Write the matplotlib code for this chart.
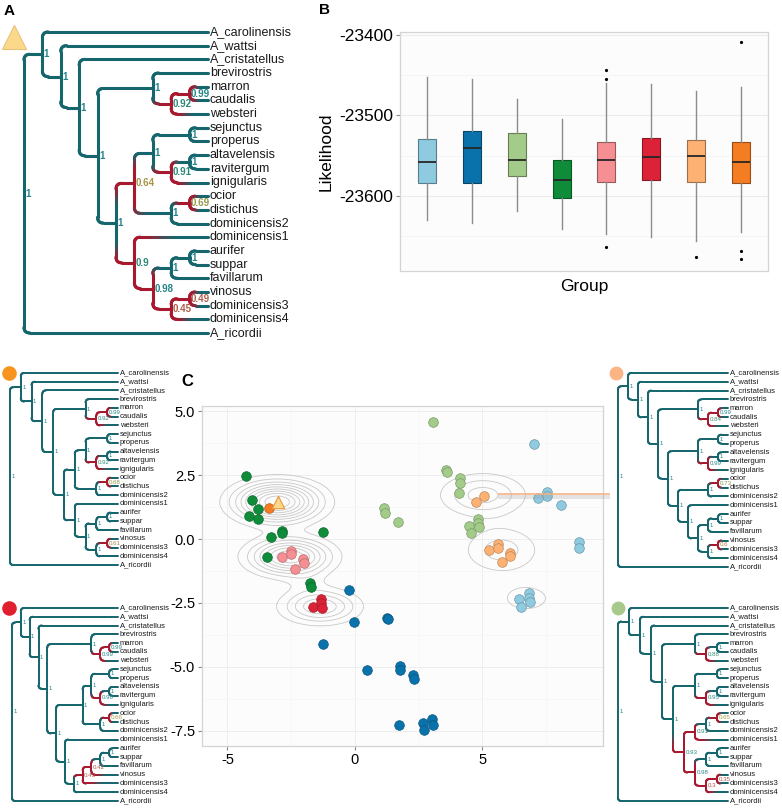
import numpy as np
import matplotlib
matplotlib.use("Agg")
import matplotlib.pyplot as plt
from matplotlib.collections import LineCollection
from matplotlib.colors import to_rgb, LinearSegmentedColormap

plt.rcParams["font.family"] = ["Liberation Sans", "DejaVu Sans"]
plt.rcParams["axes.unicode_minus"] = False

W, H = 782, 809

# ---------------- data ----------------
# trees as newick, "*" marks clades drawn in red
TREE_A = "((A_carolinensis,(A_wattsi,(A_cristatellus,((brevirostris,((marron,caudalis)0.99*,websteri)0.92*)1,((((sejunctus,properus)1,((altavelensis,ravitergum)1,ignigularis)0.91*)1,((ocior,distichus)0.69*,dominicensis2)1)0.64*,(dominicensis1,(((aurifer,suppar)1,favillarum)1,((vinosus,dominicensis3)0.49*,dominicensis4)0.45*)0.98*)0.9*)1)1)1)1)1,A_ricordii)1"
TREE_ORANGE = "((A_carolinensis,(A_wattsi,(A_cristatellus,((brevirostris,((marron,caudalis)0.99*,websteri)0.92*)1,((((sejunctus,properus)1,((altavelensis,ravitergum)1,ignigularis)0.92*)1,((ocior,distichus)0.68*,dominicensis2)1)1,(dominicensis1,(((aurifer,suppar)1,favillarum)1,((vinosus,dominicensis3)0.61*,dominicensis4)1)1)1)1)1)1)1)1,A_ricordii)1"
TREE_LORANGE = "((A_carolinensis,(A_wattsi,(A_cristatellus,((brevirostris,((marron,caudalis)0.99*,websteri)0.84*)1,(((sejunctus,properus)1,((altavelensis,ravitergum)1,ignigularis)0.99*)1,(((ocior,distichus)0.73*,dominicensis2)1,(dominicensis1,(((aurifer,suppar)1,favillarum)1,((vinosus,dominicensis3)0.6*,dominicensis4)1)1)1)1)1)1)1)1)1,A_ricordii)1"
TREE_RED = "((A_carolinensis,(A_wattsi,(A_cristatellus,((brevirostris,((marron,caudalis)0.99*,websteri)0.99*)1,((((sejunctus,properus)1,((altavelensis,ravitergum)1,ignigularis)0.98*)1,((ocior,distichus)0.66*,dominicensis2)1)1,(dominicensis1,(((((aurifer,suppar)1,favillarum)1,vinosus)0.42*,dominicensis3)0.43*,dominicensis4)1)1)1)1)1)1)1,A_ricordii)1"
TREE_LGREEN = "((A_carolinensis,(A_wattsi,(A_cristatellus,((brevirostris,((marron,caudalis)1,websteri)0.88*)1,(((sejunctus,properus)1,((altavelensis,ravitergum)1,ignigularis)0.95*)1,((((ocior,distichus)0.65*,dominicensis2)1,dominicensis1)0.91*,(((aurifer,suppar)1,favillarum)1,((vinosus,dominicensis3)0.35*,dominicensis4)0.3*)0.98*)0.93*)1)1)1)1)1,A_ricordii)1"

# boxplot summary per group
groups = ["1", "2", "3", "4", "5", "6", "7", "8"]
group_colors = ["#8ECAE0", "#0A72AA", "#A3CC8A", "#0E8C3A",
                "#F58F93", "#DC2237", "#FDB274", "#F47C22"]
box_hi = [-23452, -23455, -23479, -23504, -23460, -23461, -23469, -23464]
box_q3 = [-23529, -23520, -23522, -23556, -23533, -23528, -23531, -23533]
box_med = [-23558, -23541, -23555, -23580, -23556, -23552, -23551, -23558]
box_q1 = [-23584, -23584, -23576, -23603, -23583, -23580, -23583, -23584]
box_lo = [-23630, -23634, -23619, -23642, -23648, -23652, -23656, -23645]
box_fliers = [[], [], [], [], [-23443, -23454, -23664], [], [-23676],
              [-23409, -23669, -23679]]

# scatter (panel C), one list pair per group
pts_x = [
    [7.03, 7.54, 7.54, 7.19, 8.08, 8.80, 8.80, 6.43, 6.52, 6.82, 6.82, 6.85],
    [-0.25, -0.05, -1.24, 1.27, 1.28, 0.46, 1.76, 1.78, 2.27, 2.30, 1.73, 2.68, 2.70, 3.02, 3.05],
    [3.07, 1.15, 1.17, 1.70, 3.59, 3.62, 4.12, 4.14, 4.07, 4.82, 4.84, 4.86, 4.48, 4.54],
    [-4.27, -4.03, -3.82, -4.17, -3.80, -3.31, -2.85, -2.85, -1.24, -3.44, -1.76, -1.74],
    [-2.88, -2.52, -2.50, -2.03, -2.01, -2.34],
    [-1.63, -1.35, -1.33, -1.31],
    [5.07, 4.75, 5.25, 5.60, 5.61, 6.08, 6.09, 5.75],
    [-3.37],
]
pts_y = [
    [3.71, 1.84, 1.68, 1.61, 1.34, -0.10, -0.36, -2.34, -2.67, -2.12, -2.32, -2.45],
    [-1.98, -3.24, -4.10, -3.07, -3.14, -5.12, -4.96, -5.12, -5.31, -5.48, -7.28, -7.20, -7.46, -7.04, -7.27],
    [4.58, 1.20, 1.00, 0.65, 2.70, 2.63, 2.37, 2.18, 1.79, 0.77, 0.61, 0.48, 0.51, 0.22],
    [2.47, 1.51, 1.16, 0.90, 0.78, 0.09, 0.32, 0.22, 0.27, -0.72, -1.71, -1.86],
    [-0.69, -0.46, -0.59, -0.79, -0.95, -1.17],
    [-2.67, -2.34, -2.51, -2.68],
    [1.69, 1.45, -0.43, -0.20, -0.36, -0.53, -0.66, -0.91],
    [1.20],
]
ref_point = (-3.03, 1.46)

# density peaks behind the scatter
dens_cx = [-3.05, -2.55, -1.37, 5.02, 5.75, 6.73, -1.85]
dens_cy = [1.45, -0.69, -2.64, 1.72, -0.43, -2.32, -1.65]
dens_sx = [1.05, 1.0, 0.95, 1.05, 0.96, 0.82, 0.55]
dens_sy = [0.50, 0.45, 0.42, 0.53, 0.58, 0.44, 0.40]
dens_w = [1.0, 0.8, 0.5, 0.35, 0.25, 0.15, 0.07]

TEAL = "#16666e"
RED = "#a8182e"
sup_cmap = LinearSegmentedColormap.from_list(
    "sup", [(0, "#b8403f"), (0.5, "#b0604a"), (0.66, "#a59c45"),
            (0.88, "#2f8a72"), (1, "#24848a")])


def px_rect(left, top, right, bottom):
    return [left / W, 1 - bottom / H, (right - left) / W, (bottom - top) / H]


def parse_newick(text):
    pos = 0

    def node():
        nonlocal pos
        if text[pos] == "(":
            pos += 1
            kids = [node()]
            while text[pos] == ",":
                pos += 1
                kids.append(node())
            pos += 1
            start = pos
            while pos < len(text) and text[pos] not in ",)":
                pos += 1
            tag = text[start:pos]
            return {"kids": kids, "support": tag.rstrip("*"), "red": tag.endswith("*")}
        start = pos
        while text[pos] not in ",)":
            pos += 1
        return {"name": text[start:pos], "kids": [], "red": False}

    return node()


def layout(tree):
    leaves = []

    def walk(n):
        if not n["kids"]:
            n["y"] = len(leaves)
            n["h"] = 0
            leaves.append(n)
        else:
            for k in n["kids"]:
                walk(k)
            n["y"] = np.mean([k["y"] for k in n["kids"]])
            n["h"] = 1 + max(k["h"] for k in n["kids"])

    walk(tree)
    total = tree["h"]

    def setx(n):
        n["x"] = total - n["h"]
        for k in n["kids"]:
            setx(k)

    setx(tree)
    return leaves, total


def edge_points(x0, y0, x1, y1, rx, ry):
    s = np.sign(y1 - y0)
    ry = min(ry, abs(y1 - y0))
    rx = min(rx, x1 - x0)
    v = np.column_stack([np.full(12, x0), np.linspace(y0, y1 - s * ry, 12)])
    t = np.linspace(0, 1, 10)[:, None]
    p0, p1, p2 = np.array([x0, y1 - s * ry]), np.array([x0, y1]), np.array([x0 + rx, y1])
    c = (1 - t) ** 2 * p0 + 2 * (1 - t) * t * p1 + t ** 2 * p2
    h = np.column_stack([np.linspace(x0 + rx, x1, 14), np.full(14, y1)])
    return np.vstack([v, c[1:], h[1:]])


def draw_tree(fig, rect, newick, lw, radius, leaf_fs, sup_fs, bold):
    tree = parse_newick(newick)
    leaves, total = layout(tree)
    ax = fig.add_axes(rect)
    ax.set_xlim(0, total)
    ax.set_ylim(len(leaves) - 1, 0)
    ax.axis("off")
    ppx = rect[2] * W / total
    ppy = rect[3] * H / (len(leaves) - 1)

    segs, cols = [], []

    def walk(p):
        pc = np.array(to_rgb(RED if p["red"] else TEAL))
        for c in p["kids"]:
            cc = np.array(to_rgb(RED if c["red"] else TEAL))
            pts = edge_points(p["x"], p["y"], c["x"], c["y"], radius / ppx, radius / ppy)
            d = np.hypot(np.diff(pts[:, 0]) * ppx, np.diff(pts[:, 1]) * ppy)
            f = (np.cumsum(d) - d / 2) / d.sum()
            g = np.clip((f - 0.3) / 0.4, 0, 1)
            g = g * g * (3 - 2 * g)
            for i in range(len(d)):
                segs.append([pts[i], pts[i + 1]])
                cols.append(pc * (1 - g[i]) + cc * g[i])
            walk(c)
        if p["kids"]:
            val = float(p["support"])
            ax.annotate(p["support"], (p["x"], p["y"]), xytext=(1.0, 0),
                        textcoords="offset points", ha="left", va="center",
                        fontsize=sup_fs, color=sup_cmap(val),
                        fontweight="bold" if bold else "normal",
                        annotation_clip=False, zorder=4)

    walk(tree)
    ax.add_collection(LineCollection(segs, colors=cols, linewidths=lw,
                                     capstyle="round", clip_on=False, zorder=3))
    for leaf in leaves:
        ax.annotate(leaf["name"], (total, leaf["y"]), xytext=(1.2, 0),
                    textcoords="offset points", ha="left", va="center",
                    fontsize=leaf_fs, color="#1a1a1a", annotation_clip=False)
    return ax


fig = plt.figure(figsize=(W / 100, H / 100), dpi=100)

# ---------------- trees ----------------
draw_tree(fig, px_rect(24, 32, 208, 333), TREE_A, 2.2, 6, 9, 7, True)
draw_tree(fig, px_rect(10, 373, 118, 565), TREE_ORANGE, 1.4, 3.5, 5.5, 4.4, False)
draw_tree(fig, px_rect(618, 373, 728, 567), TREE_LORANGE, 1.4, 3.5, 5.5, 4.4, False)
draw_tree(fig, px_rect(12, 608, 118, 801), TREE_RED, 1.4, 3.5, 5.5, 4.4, False)
draw_tree(fig, px_rect(618, 608, 728, 801), TREE_LGREEN, 1.4, 3.5, 5.5, 4.4, False)

# ---------------- B: boxplot ----------------
axb = fig.add_axes(px_rect(400, 32, 768, 271))
stats = []
for i in range(len(groups)):
    stats.append(dict(med=box_med[i], q1=box_q1[i], q3=box_q3[i],
                      whislo=box_lo[i], whishi=box_hi[i], fliers=box_fliers[i]))
bp = axb.bxp(stats, positions=np.arange(1, len(groups) + 1), widths=0.4,
             patch_artist=True, showcaps=False,
             whiskerprops=dict(color="#8c8c8c", lw=1.0),
             medianprops=dict(color="#262626", lw=1.3),
             flierprops=dict(marker="o", ms=2.3, mfc="black", mec="none"))
for patch, col in zip(bp["boxes"], group_colors):
    patch.set_facecolor(col)
    patch.set_edgecolor(np.array(to_rgb(col)) * 0.62)
    patch.set_linewidth(0.8)
axb.set_xlim(0.4, 8.6)
axb.set_ylim(-23694, -23396)
axb.set_yticks([-23600, -23500, -23400])
axb.set_yticks([-23650, -23550, -23450], minor=True)
axb.set_xticks([])
axb.set_facecolor("#FCFCFC")
axb.grid(True, axis="y", which="major", color="#ECECEC", lw=0.8)
axb.grid(True, axis="y", which="minor", color="#F4F4F4", lw=0.6)
axb.set_axisbelow(True)
axb.tick_params(axis="y", which="major", length=3, color="#8a8a8a", labelsize=12.5, pad=2)
axb.tick_params(axis="y", which="minor", length=0)
for sp in axb.spines.values():
    sp.set_color("#D4D4D4")
    sp.set_linewidth(0.9)
axb.set_ylabel("Likelihood", fontsize=12.5, labelpad=4)
axb.set_xlabel("Group", fontsize=12.5, labelpad=6)

# ---------------- C: scatter ----------------
axc = fig.add_axes(px_rect(202, 406, 603, 746))
xlim = (-6.0, 9.73)
ylim = (-8.09, 5.2)
gx, gy = np.meshgrid(np.linspace(*xlim, 400), np.linspace(*ylim, 400))
dens = np.zeros_like(gx)
for cx, cy, sx, sy, w in zip(dens_cx, dens_cy, dens_sx, dens_sy, dens_w):
    dens += w * np.exp(-((gx - cx) ** 2 / (2 * sx ** 2) + (gy - cy) ** 2 / (2 * sy ** 2)))
axc.contour(gx, gy, dens, levels=np.arange(0.1, 1.0, 0.1), colors="#C8C8C8",
            linewidths=0.6, zorder=2)
for xs, ys, col in zip(pts_x, pts_y, group_colors):
    axc.scatter(xs, ys, s=48, color=col, edgecolors=np.array(to_rgb(col)) * 0.75,
                linewidths=0.5, zorder=3)
axc.scatter([ref_point[0]], [ref_point[1]], marker="^", s=80, color="#FCD98A",
            edgecolors="#E8963A", linewidths=0.8, zorder=4)
axc.set_xlim(*xlim)
axc.set_ylim(*ylim)
axc.set_xticks([-5, 0, 5])
axc.set_xticks([-2.5, 2.5, 7.5], minor=True)
axc.set_yticks([-7.5, -5.0, -2.5, 0.0, 2.5, 5.0])
axc.set_yticks([-6.25, -3.75, -1.25, 1.25, 3.75], minor=True)
axc.set_yticklabels(["-7.5", "-5.0", "-2.5", "0.0", "2.5", "5.0"])
axc.set_facecolor("#FCFCFC")
axc.grid(True, which="major", color="#EEEEEE", lw=0.7)
axc.grid(True, which="minor", color="#F6F6F6", lw=0.5)
axc.set_axisbelow(True)
axc.tick_params(which="major", length=3, color="#8a8a8a", labelsize=10.5, pad=2)
axc.tick_params(which="minor", length=0)
for sp in axc.spines.values():
    sp.set_color("#D4D4D4")
    sp.set_linewidth(0.9)

# ---------------- overlay: letters, symbols, connector ----------------
ov = fig.add_axes([0, 0, 1, 1], zorder=10)
ov.set_xlim(0, W)
ov.set_ylim(H, 0)
ov.axis("off")
ov.text(9, 11, "A", fontsize=11, fontweight="bold", ha="center", va="center")
ov.text(325, 10, "B", fontsize=11, fontweight="bold", ha="center", va="center")
ov.text(187, 381, "C", fontsize=12, fontweight="bold", ha="center", va="center")
ov.plot([14], [37], marker="^", ms=17, color="#FCD98A", mec="#E9C27A", mew=0.8)
ov.plot([9], [373], marker="o", ms=10.5, color="#F7941D", mec="none")
ov.plot([616], [373], marker="o", ms=10, color="#FBB584", mec="none")
ov.plot([9], [608], marker="o", ms=10.5, color="#E0202E", mec="none")
ov.plot([618], [608], marker="o", ms=10, color="#A8C98C", mec="none")
ov.plot([498, 610], [496.5, 496.5], color="#9a9a9a", lw=3, alpha=0.25, solid_capstyle="butt")
ov.plot([498, 610], [494, 494], color="#F8AE7A", lw=1.1, solid_capstyle="butt")

fig.savefig("out.png", dpi=100)
